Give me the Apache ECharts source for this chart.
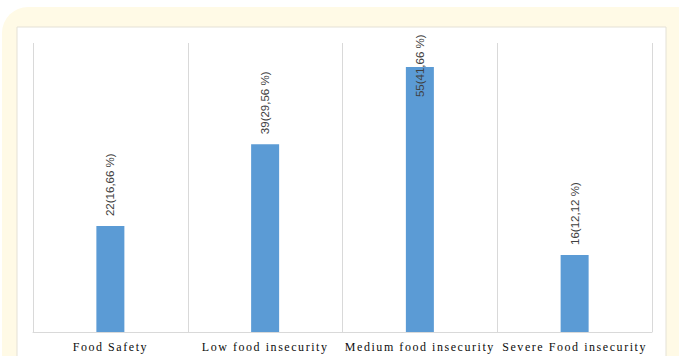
<!DOCTYPE html>
<html>
<head>
<meta charset="utf-8">
<script src="https://cdn.jsdelivr.net/npm/echarts@6/dist/echarts.min.js"></script>
<style>
  html, body { margin: 0; padding: 0; background: #ffffff; }
  #chart { width: 679px; height: 356px; }
  /* category labels are set with wide tracking */
  #chart svg text[style*="Liberation Serif"] { letter-spacing: 1.55px; }
</style>
</head>
<body>
<div id="chart"></div>
<script>
// Food security levels of the surveyed households
const categories = ['Food Safety', 'Low food insecurity', 'Medium food insecurity', 'Severe Food insecurity'];
const counts = [22, 39, 55, 16];
const percents = ['16,66', '29,56', '41,66', '12,12'];

const chart = echarts.init(document.getElementById('chart'), null, { renderer: 'svg' });

const barData = counts.map(function (v, i) {
  const item = { value: v };
  // the tallest bar keeps its label inside the plot area
  if (i === 2) item.label = { distance: -30 };
  return item;
});

chart.setOption({
  animation: false,
  backgroundColor: '#ffffff',
  graphic: [
    {
      type: 'rect', z: -10, silent: true,
      shape: { x: 2, y: 7, width: 720, height: 420, r: 26 },
      style: { fill: '#fffae6' }
    },
    {
      type: 'rect', z: -9, silent: true,
      shape: { x: 17, y: 27, width: 649, height: 360 },
      style: { fill: '#ffffff', stroke: '#e4e1d6', lineWidth: 1 }
    }
  ],
  grid: { left: 33, right: 27, top: 43, bottom: 24, containLabel: false },
  xAxis: {
    type: 'category',
    data: categories,
    boundaryGap: true,
    axisLine: { show: true, lineStyle: { color: '#d9d9d9', width: 1 } },
    axisTick: { show: false },
    splitLine: { show: true, lineStyle: { color: '#d9d9d9', width: 1 } },
    axisLabel: {
      interval: 0,
      margin: 9,
      fontFamily: 'Liberation Serif',
      fontSize: 12,
      color: '#0d0d0d'
    }
  },
  yAxis: {
    type: 'value',
    min: 0,
    max: 60,
    show: false,
    splitLine: { show: false }
  },
  series: [{
    type: 'bar',
    data: barData,
    barWidth: 28,
    itemStyle: { color: '#5b9bd5' },
    label: {
      show: true,
      position: 'top',
      distance: 10,
      rotate: 90,
      align: 'left',
      verticalAlign: 'middle',
      fontFamily: 'Liberation Sans',
      fontSize: 11.5,
      color: '#404040',
      formatter: function (p) {
        return p.value + '(' + percents[p.dataIndex] + ' %)';
      }
    }
  }]
});
</script>
</body>
</html>
